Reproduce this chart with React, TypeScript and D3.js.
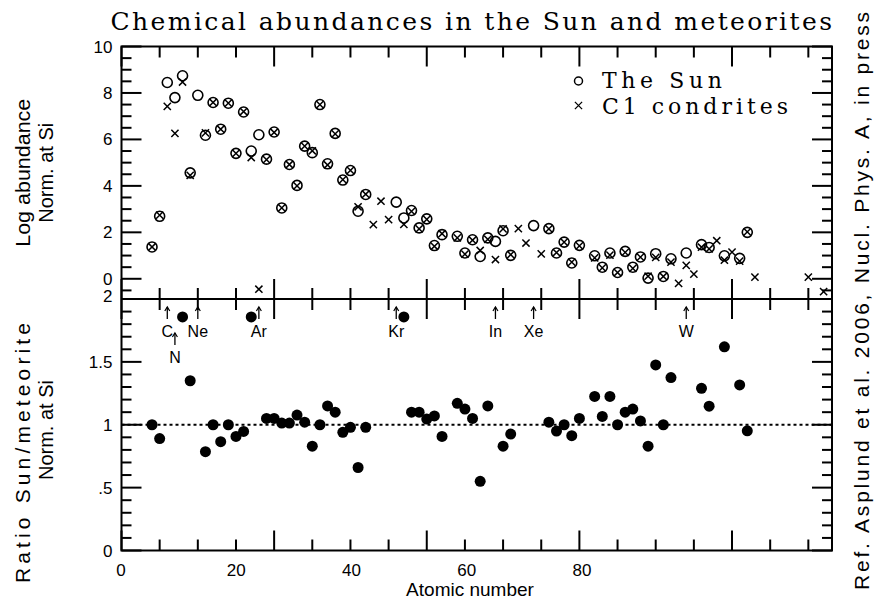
import React from "react";
import * as d3 from "d3";

// Atomic numbers and element symbols
const sunZ = [4, 5, 6, 7, 8, 9, 10, 11, 12, 13, 14, 15, 16, 17, 18, 19, 20, 21, 22, 23, 24, 25, 26, 27, 28, 29, 30, 31, 32, 36, 37, 38, 39, 40, 41, 42, 44, 45, 46, 47, 48, 49, 50, 51, 54, 56, 57, 58, 59, 60, 62, 63, 64, 65, 66, 67, 68, 69, 70, 71, 72, 74, 76, 77, 79, 81, 82];
// Solar photospheric log abundances
const sunLog = [1.37, 2.69, 8.45, 7.8, 8.74, 4.56, 7.9, 6.18, 7.59, 6.44, 7.56, 5.4, 7.18, 5.5, 6.2, 5.15, 6.32, 3.05, 4.92, 4.02, 5.71, 5.43, 7.5, 4.95, 6.26, 4.25, 4.66, 2.91, 3.63, 3.3, 2.62, 2.94, 2.19, 2.58, 1.43, 1.9, 1.83, 1.11, 1.68, 0.96, 1.76, 1.61, 2.07, 1.01, 2.29, 2.16, 1.11, 1.58, 0.68, 1.44, 0.99, 0.5, 1.11, 0.27, 1.18, 0.5, 0.94, 0.03, 1.08, 0.1, 0.86, 1.11, 1.47, 1.35, 0.99, 0.88, 2.0];

const metZ = [4, 5, 6, 7, 8, 9, 11, 12, 13, 14, 15, 16, 17, 18, 19, 20, 21, 22, 23, 24, 25, 26, 27, 28, 29, 30, 31, 32, 33, 34, 35, 37, 38, 39, 40, 41, 42, 44, 45, 46, 47, 48, 49, 50, 51, 52, 53, 55, 56, 57, 58, 59, 60, 62, 63, 64, 65, 66, 67, 68, 69, 70, 71, 72, 73, 74, 75, 76, 77, 78, 79, 80, 81, 82, 83, 90, 92];
// CI chondrite log abundances
const metLog = [1.37, 2.74, 7.42, 6.26, 8.47, 4.45, 6.28, 7.59, 6.44, 7.56, 5.4, 7.2, 5.22, -0.45, 5.13, 6.3, 3.05, 4.92, 4.0, 5.71, 5.51, 7.5, 4.9, 6.24, 4.27, 4.67, 3.1, 3.64, 2.33, 3.34, 2.55, 2.34, 2.9, 2.15, 2.56, 1.4, 1.94, 1.76, 1.06, 1.66, 1.22, 1.7, 0.83, 2.15, 1.04, 2.16, 1.54, 1.07, 2.15, 1.13, 1.58, 0.72, 1.42, 0.9, 0.47, 1.02, 0.27, 1.14, 0.45, 0.93, 0.11, 0.92, 0.1, 0.72, -0.2, 0.58, 0.2, 1.36, 1.29, 1.64, 0.8, 1.15, 0.76, 2.02, 0.07, 0.07, -0.55];

// Sun / meteorite abundance ratio, normalised at Si
const ratioZ = [4, 5, 8, 9, 11, 12, 13, 14, 15, 16, 17, 19, 20, 21, 22, 23, 24, 25, 26, 27, 28, 29, 30, 31, 32, 37, 38, 39, 40, 41, 42, 44, 45, 46, 47, 48, 50, 51, 56, 57, 58, 59, 60, 62, 63, 64, 65, 66, 67, 68, 69, 70, 71, 72, 76, 77, 79, 81, 82];
const ratioVal = [1.0, 0.89, 1.857, 1.35, 0.786, 1.0, 0.865, 1.0, 0.907, 0.947, 1.857, 1.05, 1.05, 1.013, 1.013, 1.077, 1.02, 0.83, 1.0, 1.15, 1.1, 0.94, 0.98, 0.66, 0.98, 1.857, 1.1, 1.1, 1.045, 1.07, 0.907, 1.17, 1.125, 1.05, 0.55, 1.15, 0.83, 0.926, 1.02, 0.95, 1.0, 0.913, 1.05, 1.225, 1.066, 1.225, 1.0, 1.1, 1.125, 1.03, 0.83, 1.476, 1.0, 1.375, 1.29, 1.148, 1.62, 1.317, 0.952];

// Elements flagged with arrows in the ratio panel
const markZ = [6, 7, 10, 18, 36, 49, 54, 74];
const markLabel = ["C", "N", "Ne", "Ar", "Kr", "In", "Xe", "W"];
const markRow = [0, 1, 0, 0, 0, 0, 0, 0];

const xTickLabels = [0, 20, 40, 60, 80];
const topTickLabels = [0, 2, 4, 6, 8, 10];
const ratioTickLabels = ["0", ".5", "1", "1.5", "2"];
const ratioTickValues = [0, 0.5, 1, 1.5, 2];

const legendLabels = ["The Sun", "C1 condrites"];

const W = 878;
const H = 602;
const L = 121.5;
const R = 832;
const T = 46.5;
const MID = 299;
const B = 550.5;

const SERIF = "'DejaVu Serif', 'Liberation Serif', serif";
const SANS = "'Liberation Sans', Arial, sans-serif";

export default function App() {
  const x = d3.scaleLinear().domain([0, 93.1]).range([L, R]);
  // the numeric labels along the bottom axis sit on their own, tighter spacing
  const xLab = d3.scaleLinear().domain([0, 80]).range([121, 582]);
  const yTop = d3.scaleLinear().domain([-0.87, 10]).range([MID, T]);
  const yBot = d3.scaleLinear().domain([0, 2]).range([B, MID]);

  const xMinor = d3.range(0, 93, 5);
  const topMinor = d3.range(-0.5, 10.01, 0.5);
  const botMinor = d3.range(0, 2.001, 0.1);

  const stroke = "#000";
  const tw = 2;

  const xTicks = (y0: number, dir: number, key: string) =>
    xMinor.map((v) => {
      const len = v % 20 === 0 ? 20 : 11;
      return (
        <line key={key + v} x1={x(v)} x2={x(v)} y1={y0} y2={y0 + dir * len} stroke={stroke} strokeWidth={tw} />
      );
    });

  const cross = (cx: number, cy: number, s: number) =>
    `M${cx - s},${cy - s}L${cx + s},${cy + s}M${cx - s},${cy + s}L${cx + s},${cy - s}`;

  return (
    <svg width={W} height={H} style={{ display: "block", position: "absolute", left: 0, top: 0, background: "#fff" }}>
      <rect x={0} y={0} width={W} height={H} fill="#fff" />

      {/* title */}
      <text x={L - 11} y={30} fontFamily={SERIF} fontSize={25} textLength={R - L + 11} lengthAdjust="spacing">
        Chemical abundances in the Sun and meteorites
      </text>

      {/* frames */}
      <rect x={L} y={T} width={R - L} height={B - T} fill="none" stroke={stroke} strokeWidth={2} />
      <line x1={L} x2={R} y1={MID} y2={MID} stroke={stroke} strokeWidth={2} />

      {/* x ticks on both panels */}
      {xTicks(T, 1, "a")}
      {xTicks(MID, -1, "b")}
      {xTicks(MID, 1, "c")}
      {xTicks(B, -1, "d")}

      {/* y ticks, upper panel */}
      {topMinor.map((v) => {
        const major = Math.abs(v % 2) < 1e-6;
        const len = major ? 20 : 10;
        return (
          <g key={"ty" + v}>
            <line x1={L} x2={L + len} y1={yTop(v)} y2={yTop(v)} stroke={stroke} strokeWidth={tw} />
            <line x1={R} x2={R - len} y1={yTop(v)} y2={yTop(v)} stroke={stroke} strokeWidth={tw} />
          </g>
        );
      })}
      {/* y ticks, lower panel */}
      {botMinor.map((v, i) => {
        const major = i % 5 === 0;
        const len = major ? 20 : 10;
        return (
          <g key={"by" + i}>
            <line x1={L} x2={L + len} y1={yBot(v)} y2={yBot(v)} stroke={stroke} strokeWidth={tw} />
            <line x1={R} x2={R - len} y1={yBot(v)} y2={yBot(v)} stroke={stroke} strokeWidth={tw} />
          </g>
        );
      })}

      {/* tick labels */}
      {topTickLabels.map((v) => (
        <text key={"tl" + v} x={L - 9} y={yTop(v) + 6} textAnchor="end" fontFamily={SANS} fontSize={17}>
          {v}
        </text>
      ))}
      {ratioTickValues.map((v, i) => (
        <text key={"bl" + i} x={L - 9} y={yBot(v) + (v === 2 ? 3 : 6)} textAnchor="end" fontFamily={SANS} fontSize={17}>
          {ratioTickLabels[i]}
        </text>
      ))}
      {xTickLabels.map((v) => (
        <text key={"xl" + v} x={xLab(v)} y={576} textAnchor="middle" fontFamily={SANS} fontSize={17}>
          {v}
        </text>
      ))}

      {/* axis titles */}
      <text transform={`translate(30,${(T + MID) / 2}) rotate(-90)`} textAnchor="middle" fontFamily={SANS} fontSize={20} textLength={148} lengthAdjust="spacingAndGlyphs">
        Log abundance
      </text>
      <text transform={`translate(53,${(T + MID) / 2}) rotate(-90)`} textAnchor="middle" fontFamily={SANS} fontSize={20}>
        Norm. at Si
      </text>
      <text transform={`translate(30,453) rotate(-90)`} textAnchor="middle" fontFamily={SANS} fontSize={21} textLength={260} lengthAdjust="spacing">
        Ratio Sun/meteorite
      </text>
      <text transform={`translate(53,430) rotate(-90)`} textAnchor="middle" fontFamily={SANS} fontSize={20}>
        Norm. at Si
      </text>
      <text x={470} y={596} textAnchor="middle" fontFamily={SANS} fontSize={19}>
        Atomic number
      </text>
      <text transform={`translate(869,${H / 2}) rotate(-90)`} textAnchor="middle" fontFamily={SANS} fontSize={21} textLength={578} lengthAdjust="spacing">
        Ref. Asplund et al. 2006, Nucl. Phys. A, in press
      </text>

      {/* upper panel: meteorites (crosses) */}
      {metZ.map((z, i) => (
        <path key={"m" + z} d={cross(x(z), yTop(metLog[i]), 3.6)} stroke={stroke} strokeWidth={1.5} fill="none" />
      ))}
      {/* upper panel: Sun (open circles) */}
      {sunZ.map((z, i) => (
        <circle key={"s" + z} cx={x(z)} cy={yTop(sunLog[i])} r={5} fill="none" stroke={stroke} strokeWidth={1.6} />
      ))}

      {/* legend */}
      <circle cx={578.5} cy={81} r={4} fill="none" stroke={stroke} strokeWidth={1.5} />
      <text x={602} y={88} fontFamily={SERIF} fontSize={22} textLength={120} lengthAdjust="spacing">
        {legendLabels[0]}
      </text>
      <path d={cross(578.5, 105.5, 3.6)} stroke={stroke} strokeWidth={1.3} fill="none" />
      <text x={602} y={114} fontFamily={SERIF} fontSize={22} textLength={186} lengthAdjust="spacing">
        {legendLabels[1]}
      </text>

      {/* lower panel: reference line at unity */}
      <line x1={L} x2={R} y1={yBot(1)} y2={yBot(1)} stroke={stroke} strokeWidth={1.8} strokeDasharray="3,3" />

      {/* arrows for flagged elements */}
      {markZ.map((z, i) => {
        const off = markRow[i] * 26;
        const ax = x(z);
        const y1 = MID + 8 + off;
        const y2 = MID + 20 + off;
        return (
          <g key={"mk" + z}>
            <line x1={ax} x2={ax} y1={y1} y2={y2} stroke={stroke} strokeWidth={1.3} />
            <path d={`M${ax - 2.5},${y1 + 4}L${ax},${y1}L${ax + 2.5},${y1 + 4}`} stroke={stroke} strokeWidth={1.2} fill="none" />
            <text x={ax} y={MID + 38 + off} textAnchor="middle" fontFamily={SANS} fontSize={16}>
              {markLabel[i]}
            </text>
          </g>
        );
      })}

      {/* lower panel: ratio points */}
      {ratioZ.map((z, i) => (
        <circle key={"r" + z} cx={x(z)} cy={yBot(ratioVal[i])} r={5.5} fill="#000" />
      ))}
    </svg>
  );
}
